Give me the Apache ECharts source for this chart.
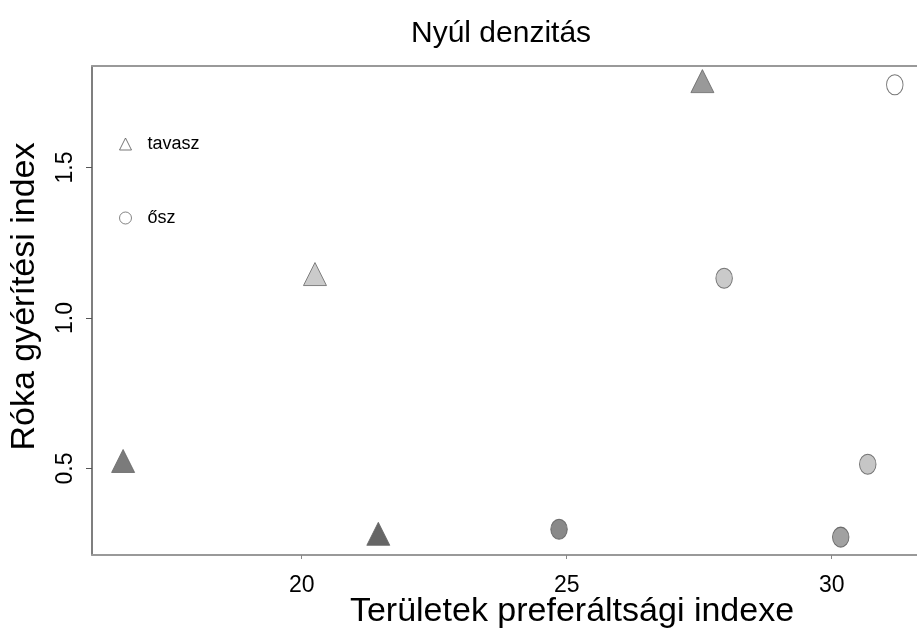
<!DOCTYPE html>
<html>
<head>
<meta charset="utf-8">
<script src="https://cdn.jsdelivr.net/npm/echarts@6/dist/echarts.min.js"></script>
<style>
  html, body { margin: 0; padding: 0; background: #fff; }
  #chart { width: 917px; height: 629px; }
</style>
</head>
<body>
<div id="chart"></div>
<script>
// Spring (tavasz) observations: area preference index vs fox culling index
const springX = [16.63, 20.25, 21.445, 27.56];
const springY = [0.512, 1.133, 0.270, 1.774];
// Autumn (ősz) observations
const autumnX = [24.855, 27.97, 31.19, 30.68, 30.17];
const autumnY = [0.298, 1.132, 1.775, 0.514, 0.272];
// Grey shade of each point (rabbit density)
const springShade = ['#5a5a5a', '#bebebe', '#404040', '#7f7f7f'];
const autumnShade = ['#6b6b6b', '#bdbdbd', '#ffffff', '#b8b8b8', '#8a8a8a'];
// Tick positions
const xTicks = [20, 25, 30];
const yTicks = [0.5, 1.0, 1.5];

const FONT = 'Liberation Sans, Arial, sans-serif';
const X_MIN = 16.043, X_MAX = 31.609;
const Y_MIN = 0.2126, Y_MAX = 1.8372;

function points(xs, ys, shades, edge) {
  return xs.map((x, i) => ({
    value: [x, ys[i]],
    itemStyle: { color: shades[i], borderColor: edge, borderWidth: 1 }
  }));
}

const chart = echarts.init(document.getElementById('chart'), null, { renderer: 'canvas' });
chart.setOption({
  animation: false,
  backgroundColor: '#ffffff',
  title: {
    text: 'Nyúl denzitás',
    left: 406,
    top: 14,
    textStyle: { fontFamily: FONT, fontSize: 30, fontWeight: 'normal', color: '#000' }
  },
  legend: {
    orient: 'vertical',
    left: 114,
    top: 130,
    itemWidth: 12,
    itemHeight: 12,
    itemGap: 56,
    selectedMode: false,
    textStyle: { fontFamily: FONT, fontSize: 18, color: '#000', padding: [0, 0, 0, 11] },
    data: [
      { name: 'tavasz', icon: 'triangle', itemStyle: { color: '#ffffff', borderColor: '#555', borderWidth: 1 } },
      { name: 'ősz', icon: 'circle', itemStyle: { color: '#ffffff', borderColor: '#666', borderWidth: 1 } }
    ]
  },
  grid: { left: 92, right: 0, top: 66, bottom: 74, outerBoundsMode: 'none', containLabel: false },
  xAxis: [{
    type: 'value',
    min: X_MIN,
    max: X_MAX,
    position: 'bottom',
    splitLine: { show: false },
    axisLine: { show: true, onZero: false, lineStyle: { color: '#999', width: 2 } },
    axisTick: { show: true, customValues: xTicks, length: 4, lineStyle: { color: '#888' } },
    axisLabel: {
      customValues: xTicks, margin: 19,
      fontFamily: FONT, fontSize: 23, color: '#000'
    },
    name: 'Területek preferáltsági indexe',
    nameLocation: 'middle',
    nameGap: 40,
    nameMoveOverlap: false,
    nameTextStyle: { fontFamily: FONT, fontSize: 34, color: '#000', padding: [0, 0, 0, 135] }
  }, {
    type: 'value',
    min: X_MIN,
    max: X_MAX,
    position: 'top',
    splitLine: { show: false },
    axisLine: { show: true, onZero: false, lineStyle: { color: '#999', width: 2 } },
    axisTick: { show: false },
    axisLabel: { show: false }
  }],
  yAxis: {
    type: 'value',
    min: Y_MIN,
    max: Y_MAX,
    splitLine: { show: false },
    axisLine: { show: true, onZero: false, lineStyle: { color: '#555', width: 1.5 } },
    axisTick: { show: true, customValues: yTicks, length: 6, lineStyle: { color: '#555' } },
    axisLabel: {
      customValues: yTicks, rotate: 90, margin: 15,
      fontFamily: FONT, fontSize: 23, color: '#000',
      formatter: v => v.toFixed(1)
    },
    name: 'Róka gyérítési index',
    nameLocation: 'middle',
    nameRotate: 90,
    nameGap: 50,
    nameMoveOverlap: false,
    nameTextStyle: { fontFamily: FONT, fontSize: 34, color: '#000', padding: [0, 0, 0, 28] }
  },
  series: [{
    name: 'tavasz',
    type: 'scatter',
    symbol: 'triangle',
    symbolSize: [23, 23],
    symbolOffset: [0, '-17%'],
    data: points(springX, springY, springShade, '#666')
  }, {
    name: 'ősz',
    type: 'scatter',
    symbol: 'circle',
    symbolSize: [16.5, 20],
    data: points(autumnX, autumnY, autumnShade, '#555')
  }]
});
</script>
</body>
</html>
